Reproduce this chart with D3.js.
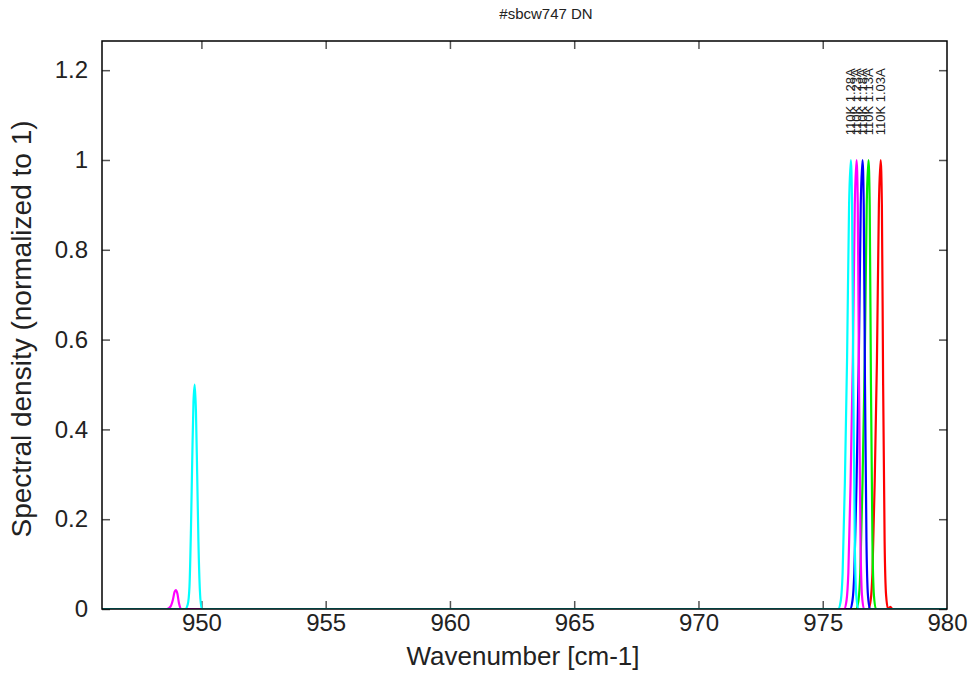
<!DOCTYPE html>
<html>
<head>
<meta charset="utf-8">
<script src="https://cdn.jsdelivr.net/npm/d3@7"></script>
<style>
  body { margin: 0; background: #fff; }
  text { font-family: "Liberation Sans", Arial, sans-serif; fill: #222; }
</style>
</head>
<body>
<div id="chart"></div>
<script>
// tick values
const xTicks = [950, 955, 960, 965, 970, 975, 980]
const yTicks = [0, 0.2, 0.4, 0.6, 0.8, 1, 1.2]

// series labels (one per curve)
const seriesLabels = ['110K 1.28A', '110K 1.23A', '110K 1.18A', '110K 1.13A', '110K 1.03A']
const peakPositions = [976.13, 976.36, 976.60, 976.84, 977.33]

// [wavenumber, spectral density]
const cyanPoints = [
  [946, 0], [949.35, 0], [949.45, 0.01], [949.52, 0.05], [949.58, 0.18], [949.63, 0.33],
  [949.68, 0.46], [949.73, 0.5], [949.78, 0.44], [949.83, 0.3], [949.88, 0.15],
  [949.94, 0.04], [950.01, 0], [975.62, 0], [975.73, 0.02], [975.8, 0.08], [975.89, 0.28],
  [975.98, 0.56], [976.06, 0.9], [976.13, 1], [976.18, 0.9], [976.23, 0.5],
  [976.29, 0.15], [976.35, 0.03], [976.43, 0], [980, 0]
]
const magentaPoints = [
  [946, 0], [948.6, 0], [948.75, 0.005], [948.85, 0.02], [948.92, 0.038], [948.97, 0.042],
  [949.03, 0.035], [949.1, 0.012], [949.18, 0], [975.86, 0], [975.96, 0.02], [976.03, 0.08],
  [976.12, 0.28], [976.21, 0.55], [976.29, 0.9], [976.36, 1], [976.41, 0.9], [976.46, 0.5],
  [976.52, 0.15], [976.58, 0.03], [976.66, 0], [980, 0]
]
const bluePoints = [
  [946, 0], [976.1, 0], [976.2, 0.02], [976.27, 0.08], [976.36, 0.28], [976.45, 0.55],
  [976.53, 0.9], [976.6, 1], [976.65, 0.9], [976.7, 0.5], [976.76, 0.15], [976.82, 0.03],
  [976.9, 0], [980, 0]
]
const greenPoints = [
  [946, 0], [976.34, 0], [976.44, 0.02], [976.51, 0.08], [976.6, 0.28], [976.69, 0.55],
  [976.77, 0.9], [976.84, 1], [976.89, 0.9], [976.94, 0.5], [977, 0.15], [977.06, 0.03],
  [977.14, 0], [980, 0]
]
const redPoints = [
  [946, 0], [976.83, 0], [976.93, 0.02], [977, 0.08], [977.09, 0.28], [977.18, 0.55],
  [977.26, 0.9], [977.33, 1], [977.38, 0.9], [977.43, 0.5], [977.49, 0.15], [977.55, 0.03],
  [977.63, 0], [977.72, 0.005], [977.8, 0], [980, 0]
]

const series = [
  { points: redPoints, color: '#ff0000' },
  { points: greenPoints, color: '#00ee00' },
  { points: bluePoints, color: '#0000ff' },
  { points: magentaPoints, color: '#ff00ff' },
  { points: cyanPoints, color: '#00ffff' }
]

const width = 978, height = 675
const margin = { top: 41, right: 31, bottom: 66, left: 102 }

const svg = d3.select('#chart').append('svg')
  .attr('width', width)
  .attr('height', height)

const x = d3.scaleLinear()
  .domain([946, 980])
  .range([margin.left, width - margin.right])

const y = d3.scaleLinear()
  .domain([0, 1.265])
  .range([height - margin.bottom, margin.top])

svg.append('defs').append('clipPath').attr('id', 'plot')
  .append('rect')
  .attr('x', x.range()[0]).attr('y', y.range()[1])
  .attr('width', x.range()[1] - x.range()[0])
  .attr('height', y.range()[0] - y.range()[1])

// title
svg.append('text')
  .attr('x', 546).attr('y', 19)
  .attr('text-anchor', 'middle')
  .style('font-size', '15px')
  .text('#sbcw747 DN')

// ticks on all four sides, pointing inward
const tickLen = 8
const tickColor = '#555'

const bottomAxis = svg.append('g')
  .attr('transform', `translate(0, ${y(0)})`)
  .call(d3.axisBottom(x).tickValues(xTicks).tickSize(-tickLen).tickPadding(5).tickFormat(d3.format('d')))
const topAxis = svg.append('g')
  .attr('transform', `translate(0, ${y.range()[1]})`)
  .call(d3.axisTop(x).tickValues(xTicks).tickSize(-tickLen).tickFormat(''))
const leftAxis = svg.append('g')
  .attr('transform', `translate(${x.range()[0]}, 0)`)
  .call(d3.axisLeft(y).tickValues(yTicks).tickSize(-tickLen).tickPadding(14).tickFormat(d => d3.format('')(+d.toFixed(1))))
const rightAxis = svg.append('g')
  .attr('transform', `translate(${x.range()[1]}, 0)`)
  .call(d3.axisRight(y).tickValues(yTicks).tickSize(-tickLen).tickFormat(''))

;[bottomAxis, topAxis, leftAxis, rightAxis].forEach(g => {
  g.select('.domain').remove()
  g.selectAll('.tick line').attr('stroke', tickColor).attr('stroke-width', 1.5)
  g.selectAll('.tick text')
    .style('font-size', '24px')
    .style('font-family', '"Liberation Sans", Arial, sans-serif')
    .attr('fill', '#222')
})
bottomAxis.selectAll('.tick line').filter(d => d === 980).remove()
topAxis.selectAll('.tick line').filter(d => d === 980).remove()

// curves
const line = d3.line()
  .x(d => x(d[0]))
  .y(d => y(d[1]))
  .curve(d3.curveMonotoneX)

svg.append('g')
  .attr('clip-path', 'url(#plot)')
  .selectAll('path')
  .data(series)
  .enter()
  .append('path')
  .attr('d', d => line(d.points))
  .attr('fill', 'none')
  .attr('stroke', d => d.color)
  .attr('stroke-width', 2.2)

// peak labels, rotated
svg.append('g')
  .selectAll('text')
  .data(seriesLabels)
  .enter()
  .append('text')
  .attr('transform', (d, i) => `translate(${x(peakPositions[i])}, ${y(1.055)}) rotate(-90)`)
  .attr('dy', '0.35em')
  .style('font-size', '13px')
  .text(d => d)

// frame
svg.append('rect')
  .attr('x', x.range()[0]).attr('y', y.range()[1])
  .attr('width', x.range()[1] - x.range()[0])
  .attr('height', y.range()[0] - y.range()[1])
  .attr('fill', 'none')
  .attr('stroke', '#000')
  .attr('stroke-width', 1.5)

// axis titles
svg.append('text')
  .attr('x', 523).attr('y', 665)
  .attr('text-anchor', 'middle')
  .style('font-size', '26px')
  .text('Wavenumber [cm-1]')

svg.append('text')
  .attr('transform', `translate(31, 329) rotate(-90)`)
  .attr('text-anchor', 'middle')
  .style('font-size', '28px')
  .text('Spectral density (normalized to 1)')
</script>
</body>
</html>
